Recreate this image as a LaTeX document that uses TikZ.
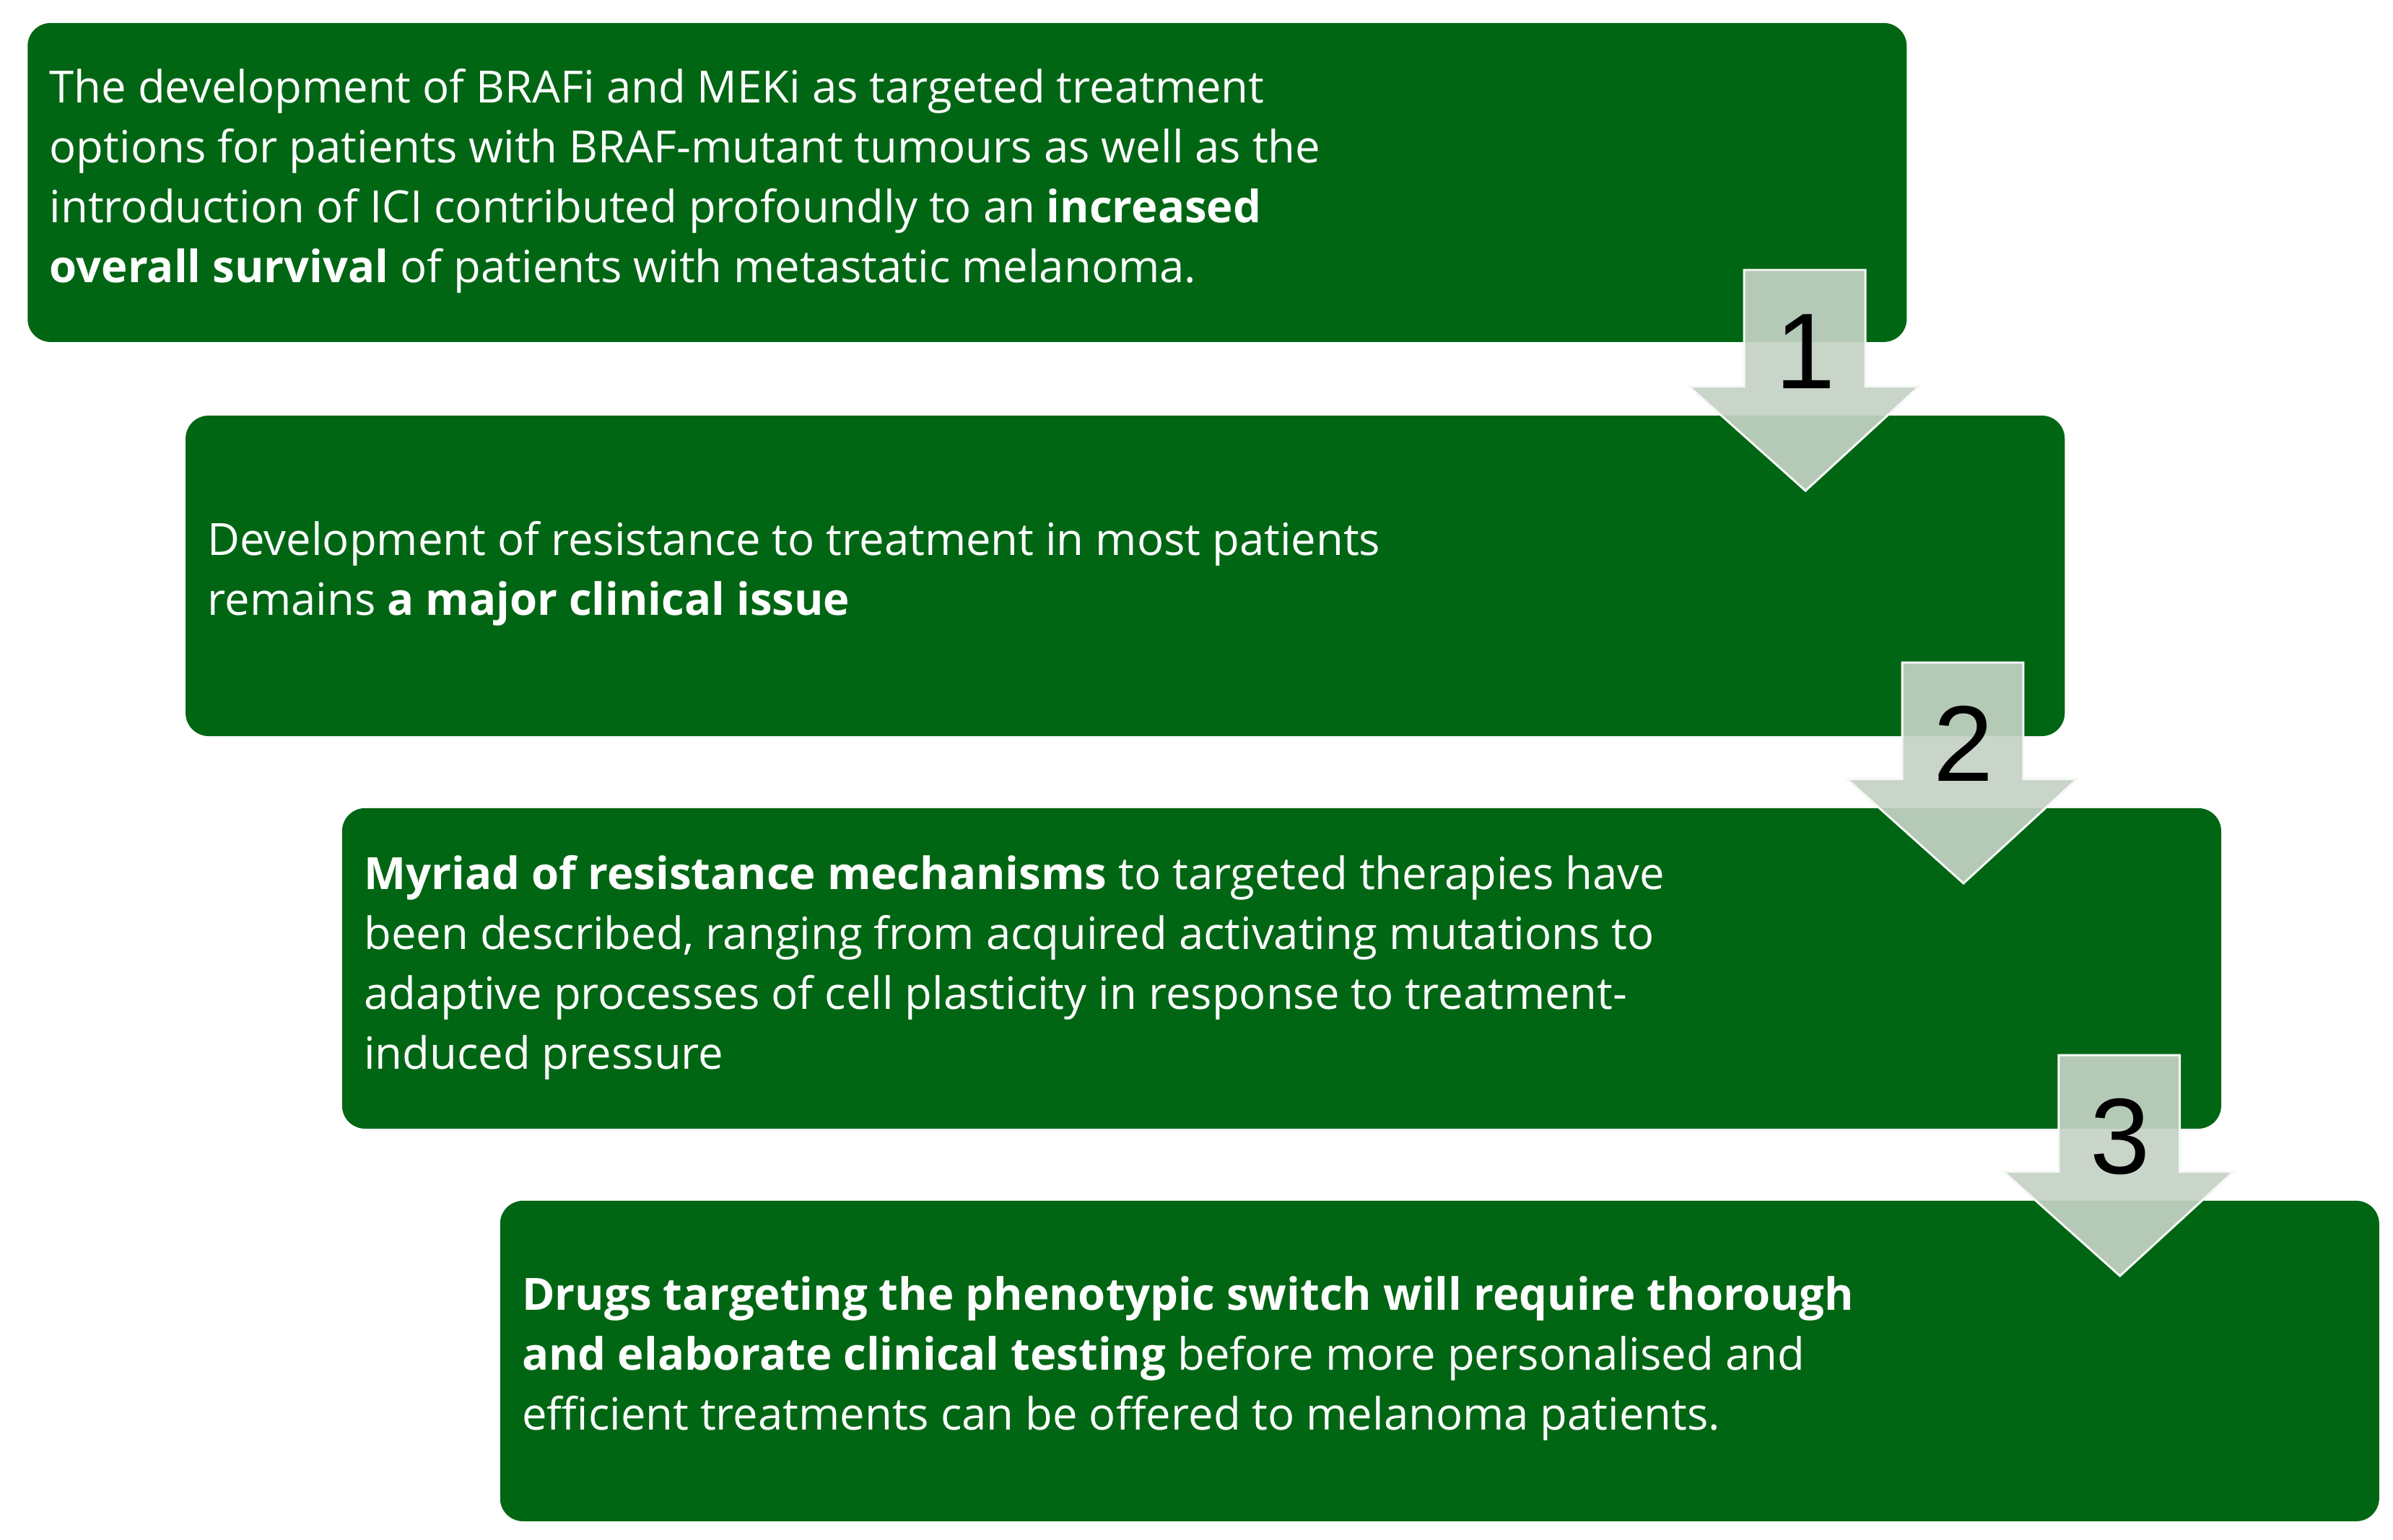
\documentclass[tikz,border=0pt]{standalone}
\usepackage{fontspec}
\setmainfont{Open Sans}
\newfontfamily\arialf{Liberation Sans}
\definecolor{boxg}{RGB}{0,102,20}
\definecolor{arrg}{RGB}{196,210,196}
\begin{document}
\begin{tikzpicture}[x=0.02cm,y=-0.02cm,
  box/.style={fill=boxg,rounded corners=0.3cm},
  txt/.style={anchor=west,text=white,align=left,font=\fontsize{16.5}{22.2}\selectfont,inner sep=0},
  arr/.style={fill=arrg,fill opacity=0.92,draw=white!85!arrg,line width=0.8pt},
  num/.style={font=\arialf\fontsize{40}{40}\selectfont,text=black}]
\useasboundingbox (0,0) rectangle (1560,1004);
\fill[white] (0,0) rectangle (1560,1004);
\path[box] (18,15) rectangle (1243,223);
\path[box] (121,271) rectangle (1346,480);
\path[box] (223,527) rectangle (1448,736);
\path[box] (326,783) rectangle (1551,992);
\node[txt] (t1) at (32,118) {The development of BRAFi and MEKi as targeted treatment\\options for patients with BRAF-mutant tumours as well as the\\introduction of ICI contributed profoundly to an \textbf{increased}\\\textbf{overall survival} of patients with metastatic melanoma.};
\node[txt] (t2) at (135,374) {Development of resistance to treatment in most patients\\remains \textbf{a major clinical issue}};
\node[txt] (t3) at (237,631) {\textbf{Myriad of resistance mechanisms} to targeted therapies have\\been described, ranging from acquired activating mutations to\\adaptive processes of cell plasticity in response to treatment-\\induced pressure};
\node[txt] (t4) at (340,886) {\textbf{Drugs targeting the phenotypic switch will require thorough}\\\textbf{and elaborate clinical testing} before more personalised and\\efficient treatments can be offered to melanoma patients.};
\foreach \dx/\dy/\n in {0/0/1,103/256/2,205/512/3}{
  \begin{scope}[shift={(\dx,\dy)}]
  \path[arr] (1137,176) -- (1216,176) -- (1216,252) -- (1251,252) -- (1177,320) -- (1101,252) -- (1137,252) -- cycle;
  \node[num] (n\n) at (1177,229) {\n};
  \end{scope}}
\end{tikzpicture}
\end{document}
